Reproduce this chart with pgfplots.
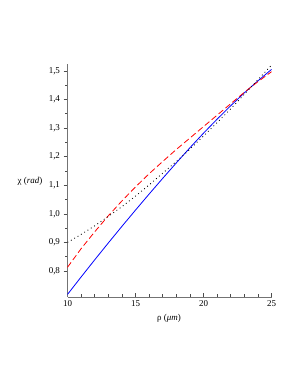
\documentclass[border=0pt]{standalone}
\usepackage{fontspec}
\setmainfont{Liberation Serif}
\usepackage{pgfplots}
\pgfplotsset{compat=1.18}
\begin{document}
\begin{tikzpicture}
\path[use as bounding box] (0,0) rectangle (298bp,385bp);
\begin{axis}[
  at={(67.5bp,88bp)}, anchor=south west,
  scale only axis, width=204bp, height=233bp,
  xmin=10, xmax=25, ymin=0.709, ymax=1.524,
  axis x line*=bottom, axis y line*=left,
  axis line style={black!55, line width=0.9bp, -},
  xtick={10,15,20,25}, minor x tick num=4,
  ytick={0.8,0.9,1.0,1.1,1.2,1.3,1.4,1.5}, minor y tick num=1,
  xtick align=inside, ytick align=outside,
  major tick length=4bp, minor tick length=2.5bp,
  tick style={black!70, line width=0.6bp},
  /pgf/number format/assume math mode=true,
  yticklabel style={/pgf/number format/.cd, fixed, fixed zerofill, precision=1, use comma},
  xticklabel style={/pgf/number format/.cd, fixed, precision=0},
  tick label style={font=\fontsize{9}{10}\selectfont, black},
  clip=false,
]
\addplot[blue, line width=0.8bp] coordinates {
(10,0.718) (11,0.779) (12,0.839) (13,0.898) (14,0.956) (15,1.013) (16,1.069)
(17,1.124) (18,1.178) (19,1.231) (20,1.282) (21,1.331) (22,1.378) (23,1.423)
(24,1.465) (25,1.505)};
\addplot[red, line width=0.8bp, dash pattern=on 6bp off 3bp] coordinates {
(10,0.813) (11,0.878) (12,0.937) (13,0.993) (14,1.045) (15,1.094) (16,1.140)
(17,1.183) (18,1.225) (19,1.265) (20,1.305) (21,1.345) (22,1.385) (23,1.425)
(24,1.462) (25,1.497)};
\addplot[black, line width=0.8bp, dash pattern=on 0.9bp off 3bp] coordinates {
(10,0.900) (11,0.928) (12,0.958) (13,0.991) (14,1.025) (15,1.062) (16,1.101)
(17,1.142) (18,1.183) (19,1.226) (20,1.272) (21,1.319) (22,1.367) (23,1.418)
(24,1.469) (25,1.520)};
\end{axis}
\node[font=\fontsize{9}{10}\selectfont] at (30bp,204bp) {χ (\textit{rad})};
\node[font=\fontsize{9}{10}\selectfont] at (169bp,67bp) {ρ (\textit{μm})};
\end{tikzpicture}
\end{document}
